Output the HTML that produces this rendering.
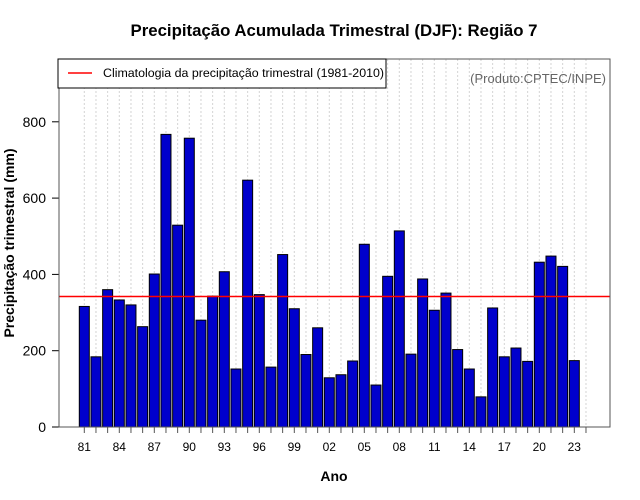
<!DOCTYPE html>
<html><head><meta charset="utf-8"><style>body{margin:0;background:#fff}svg{display:block;font-family:"Liberation Sans",sans-serif}</style></head>
<body>
<svg id="chart" width="640" height="500" xmlns="http://www.w3.org/2000/svg">
<text x="334" y="36" text-anchor="middle" font-size="16.8" font-weight="bold">Precipitação Acumulada Trimestral (DJF): Região 7</text>
<text x="334" y="481" text-anchor="middle" font-size="14" font-weight="bold">Ano</text>
<text transform="translate(14,243) rotate(-90)" text-anchor="middle" font-size="14" font-weight="bold">Precipitação trimestral (mm)</text>
<g id="grid"></g><g id="bars"></g><g id="axes"></g>
<rect x="59" y="59" width="551" height="368" fill="none" stroke="#555" stroke-width="1"/>
<g>
<rect x="58" y="59" width="328" height="29" fill="#fff" stroke="#000"/>
<line x1="68" y1="73" x2="92" y2="73" stroke="#f00" stroke-width="1.5"/>
<text x="103" y="77" font-size="12.4">Climatologia da precipitação trimestral (1981-2010)</text>
</g>
<text x="606" y="83" text-anchor="end" font-size="13" fill="#666">(Produto:CPTEC/INPE)</text>
</svg>
<script>
const years=[81,82,83,84,85,86,87,88,89,90,91,92,93,94,95,96,97,98,99,0,1,2,3,4,5,6,7,8,9,10,11,12,13,14,15,16,17,18,19,20,21,22,23];
const precip=[316,184,360,333,320,263,401,767,529,757,280,343,407,152,647,347,157,452,310,190,260,129,137,173,479,110,395,514,191,388,306,351,203,152,79,312,184,207,172,432,448,421,174];
const climatology=342;
const yTicks=[0,200,400,600,800];
const xLabelYears=[81,84,87,90,93,96,99,2,5,8,11,14,17,20,23];
const NS="http://www.w3.org/2000/svg";
const x=i=>84.3+11.667*i;
const y=v=>427-v*0.3815;
function mk(tag,attrs,parent){const e=document.createElementNS(NS,tag);for(const k in attrs)e.setAttribute(k,attrs[k]);parent.appendChild(e);return e;}
const grid=document.getElementById('grid'),bars=document.getElementById('bars'),axes=document.getElementById('axes');
for(let i=0;i<=years.length;i++){
  const g=mk('line',{x1:x(i),x2:x(i),y1:59,y2:427,stroke:'#d4d4d4','stroke-dasharray':'2,2'},grid);
  
  
  const t=mk('line',{x1:x(i),x2:x(i),y1:427,y2:433,stroke:'#555'},axes);
  
  
}
precip.forEach((v,i)=>{
  const r=mk('rect',{x:x(i)-5,y:y(v),width:10,height:427-y(v),fill:'#0000cc',stroke:'#000','stroke-width':1},bars);
  
  
});
const cl=mk('line',{x1:59,x2:610,y1:y(climatology),y2:y(climatology),stroke:'#f00','stroke-width':1.5},bars);


mk('line',{x1:59,x2:59,y1:59,y2:427,stroke:'#000'},axes);
yTicks.forEach(v=>{
  const t=mk('line',{x1:52,x2:59,y1:y(v),y2:y(v),stroke:'#000'},axes);
  
  
  const l=mk('text',{x:46,y:y(v)+5,'text-anchor':'end','font-size':14},axes);
  l.textContent=v;
  
  
});
xLabelYears.forEach(yr=>{
  const i=years.indexOf(yr);
  const l=mk('text',{x:x(i),y:451,'text-anchor':'middle','font-size':12},axes);
  l.textContent=String(yr).padStart(2,'0');
  
  
});
</script>
</body></html>
